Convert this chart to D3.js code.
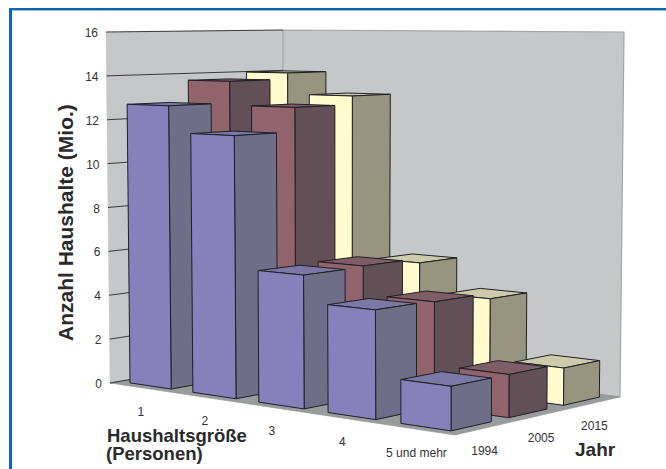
<!DOCTYPE html>
<html>
<head>
<meta charset="utf-8">
<script src="https://cdn.jsdelivr.net/npm/d3@7"></script>
<style>
html,body{margin:0;padding:0;background:#fff}
text{font-family:"Liberation Sans",Arial,sans-serif}
</style>
</head>
<body>
<script>
// Households in Germany by household size and year (millions)
const categories = ["1", "2", "3", "4", "5 und mehr"];
const years = ["1994", "2005", "2015"];
const values1994 = [12.7, 11.5, 5.7, 4.55, 1.8];
const values2005 = [13.7, 12.6, 5.75, 4.5, 1.8];
const values2015 = [14.0, 13.0, 5.55, 4.25, 1.6];
const yTicks = [0, 2, 4, 6, 8, 10, 12, 14, 16];

const seriesValues = [values1994, values2005, values2015];
const faceColors = [
  {front: "#8780bb", side: "#6e6e88", top: "#7b78a6"},
  {front: "#91636d", side: "#625056", top: "#7f5d66"},
  {front: "#fffbcc", side: "#97957f", top: "#cdcbac"}
];

const width = 666, height = 469;
const svg = d3.select("body").append("svg")
  .attr("width", width).attr("height", height)
  .style("display", "block");

// Projective map of the unit square onto a screen quadrilateral.
// Returns the screen point and the perspective divisor.
function quadMap(q) {
  const [[x0,y0],[x1,y1],[x2,y2],[x3,y3]] = q;
  const dx1 = x1-x2, dx2 = x3-x2, sx = x0-x1+x2-x3;
  const dy1 = y1-y2, dy2 = y3-y2, sy = y0-y1+y2-y3;
  const den = dx1*dy2 - dx2*dy1;
  const g = (sx*dy2 - dx2*sy)/den, h = (dx1*sy - sx*dy1)/den;
  const a = x1-x0+g*x1, b = x3-x0+h*x3, d = y1-y0+g*y1, e = y3-y0+h*y3;
  return (u, w) => {
    const k = g*u + h*w + 1;
    return [(a*u + b*w + x0)/k, (d*u + e*w + y0)/k, k];
  };
}

// Chart box: floor corners in the order left, front, right, back,
// and the screen offset from floor to top of the value axis at left, back, right.
const floorMap = quadMap([[110,383],[455,435],[620,397],[283,353]]);
const rise = {left: [-4, -351], back: [0, -323], right: [4, -365]};
const kBack = floorMap(0, 1)[2], kRight = floorMap(1, 1)[2];
const risePlane = i => {
  const c = rise.left[i], bw = rise.back[i]*kBack - c, bu = rise.right[i]*kRight - c - bw;
  return (u, w) => c + bu*u + bw*w;
};
const riseX = risePlane(0), riseY = risePlane(1);

const valueScale = d3.scaleLinear().domain([0, 16]).range([0, 1]);
const catScale = d3.scaleBand().domain(categories).range([0, 1]).paddingInner(0.34).paddingOuter(0.17);
const yearScale = d3.scaleBand().domain(years).range([0, 1]).paddingInner(0.31).paddingOuter(0.155);

// Position in the box: u along categories, w along years, v in data units
function project(u, w, v) {
  const t = valueScale(v), [x, y, k] = floorMap(u, w);
  return [x + riseX(u, w)*t/k, y + riseY(u, w)*t/k];
}
const poly = d3.line();
const face = (g, pts, fill, stroke, sw) => g.append("path")
  .attr("d", poly(pts) + "Z").attr("fill", fill)
  .attr("stroke", stroke).attr("stroke-width", sw).attr("stroke-linejoin", "round");

// Page frame
svg.append("rect").attr("x", 9).attr("y", 8).attr("width", 3).attr("height", height).attr("fill", "#0a65b8");
svg.append("rect").attr("x", 9).attr("y", 8).attr("width", width).attr("height", 2.4).attr("fill", "#0a65b8");

// Walls and floor
const box = svg.append("g");
face(box, [project(0,0,0), project(0,0,16), project(0,1,16), project(0,1,0)], "#c6c7c9", "#c6c7c9", 0.5);
face(box, [project(0,1,0), project(0,1,16), project(1,1,16), project(1,1,0)], "#c6c7c9", "#a4a5a8", 1.2);
face(box, [project(0,0,0), project(1,0,0), project(1,1,0), project(0,1,0)], "#9a9b9d", "#8d8e90", 0.6);

// Gridlines on the left wall
box.selectAll("line.grid").data(yTicks).join("line").attr("class", "grid")
  .attr("x1", d => project(0,0,d)[0]).attr("y1", d => project(0,0,d)[1])
  .attr("x2", d => project(0,1,d)[0]).attr("y2", d => project(0,1,d)[1])
  .attr("stroke", "#2a2a2a").attr("stroke-width", 0.9);

// Bars: back row first, left to right within a row
const bars = svg.append("g");
for (let j = years.length - 1; j >= 0; j--) {
  const w0 = yearScale(years[j]), w1 = w0 + yearScale.bandwidth();
  categories.forEach((c, i) => {
    const u0 = catScale(c), u1 = u0 + catScale.bandwidth(), v = seriesValues[j][i];
    const col = faceColors[j];
    const g = bars.append("g");
    face(g, [project(u0,w0,v), project(u1,w0,v), project(u1,w1,v), project(u0,w1,v)], col.top, "#1f1f24", 1);
    face(g, [project(u1,w0,0), project(u1,w0,v), project(u1,w1,v), project(u1,w1,0)], col.side, "#1f1f24", 1);
    face(g, [project(u0,w0,0), project(u0,w0,v), project(u1,w0,v), project(u1,w0,0)], col.front, "#1f1f24", 1);
  });
}

// Tick labels
const labels = svg.append("g").attr("fill", "#333").attr("font-size", 12);
labels.selectAll("text.y").data(yTicks).join("text").attr("class", "y")
  .attr("x", d => project(0,0,d)[0] - 8).attr("y", d => project(0,0,d)[1] + 5)
  .attr("text-anchor", "end").text(d => d);
labels.selectAll("text.c").data(categories).join("text").attr("class", "c")
  .attr("x", d => project(catScale(d) + catScale.bandwidth()/2, 0, 0)[0])
  .attr("y", d => project(catScale(d) + catScale.bandwidth()/2, 0, 0)[1] + 28)
  .attr("text-anchor", "middle").text(d => d);
labels.selectAll("text.s").data(years).join("text").attr("class", "s")
  .attr("x", d => project(1, yearScale(d) + yearScale.bandwidth()/2, 0)[0])
  .attr("y", d => project(1, yearScale(d) + yearScale.bandwidth()/2, 0)[1] + 27)
  .attr("text-anchor", "middle").text(d => d);

// Axis titles
const titles = svg.append("g").attr("fill", "#2a2a2a").attr("font-weight", "bold");
titles.append("text").attr("font-size", 21).attr("transform", "translate(73,341) rotate(-90)").text("Anzahl Haushalte (Mio.)");
titles.append("text").attr("font-size", 18.5).attr("x", 107).attr("y", 442).text("Haushaltsgröße");
titles.append("text").attr("font-size", 18.5).attr("x", 106).attr("y", 460).text("(Personen)");
titles.append("text").attr("font-size", 19).attr("x", 575).attr("y", 456).text("Jahr");
</script>
</body>
</html>
